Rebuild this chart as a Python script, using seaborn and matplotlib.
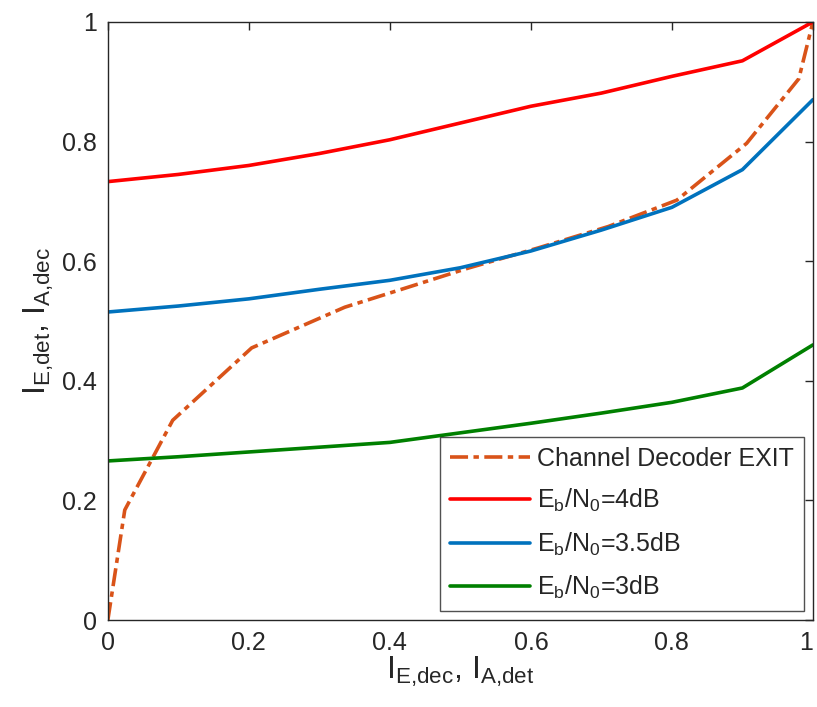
import numpy as np
import pandas as pd
import matplotlib
matplotlib.use("Agg")
import matplotlib.pyplot as plt
import seaborn as sns

sns.set_style("white")
plt.rcParams['font.family'] = ['Liberation Sans', 'DejaVu Sans']
plt.rcParams['mathtext.fontset'] = 'custom'
plt.rcParams['mathtext.rm'] = 'Liberation Sans'
plt.rcParams['mathtext.it'] = 'Liberation Sans'

# Data
x_dec = [0, 0.024, 0.092, 0.204, 0.336, 0.414, 0.51, 0.61, 0.71, 0.807, 0.906, 0.98, 1.0]
y_dec = [0, 0.184, 0.334, 0.455, 0.523, 0.552, 0.588, 0.622, 0.658, 0.702, 0.797, 0.905, 1.0]
x_det = [0, 0.1, 0.2, 0.3, 0.4, 0.5, 0.6, 0.7, 0.8, 0.9, 1.0]
y_4db = [0.733, 0.745, 0.760, 0.780, 0.803, 0.831, 0.859, 0.881, 0.909, 0.935, 1.0]
y_35db = [0.515, 0.525, 0.537, 0.553, 0.568, 0.589, 0.617, 0.652, 0.690, 0.753, 0.870]
y_3db = [0.266, 0.273, 0.281, 0.289, 0.297, 0.313, 0.329, 0.346, 0.364, 0.388, 0.460]
tick_vals = [0, 0.2, 0.4, 0.6, 0.8, 1]
tick_labels = ["0", "0.2", "0.4", "0.6", "0.8", "1"]
labels = ["Channel Decoder EXIT", r"E$_\mathregular{b}$/N$_\mathregular{0}$=4dB",
          r"E$_\mathregular{b}$/N$_\mathregular{0}$=3.5dB", r"E$_\mathregular{b}$/N$_\mathregular{0}$=3dB"]
colors = ["#D95319", "#FF0000", "#0072BD", "#008000"]

fig = plt.figure(figsize=(8.17, 7.07), dpi=100)
ax = fig.add_axes([0.132, 0.123, 0.863, 0.846])

sns.lineplot(x=x_dec, y=y_dec, ax=ax, color=colors[0], lw=2.6, linestyle=(0, (5, 1.5, 1.5, 1.5)),
             label=labels[0], sort=False)
for yy, lab, c in zip([y_4db, y_35db, y_3db], labels[1:], colors[1:]):
    sns.lineplot(x=x_det, y=yy, ax=ax, color=c, lw=2.6, label=lab, sort=False)

ax.set_xlim(0, 1)
ax.set_ylim(0, 1)
ax.set_xticks(tick_vals)
ax.set_xticklabels(tick_labels)
ax.set_yticks(tick_vals)
ax.set_yticklabels(tick_labels)
ax.tick_params(direction='in', length=6, width=1, labelsize=18, top=True, right=True,
               colors='#262626', labelcolor='#262626', pad=8)
ax.get_xticklabels()[-1].set_horizontalalignment('right')
for s in ax.spines.values():
    s.set_color('#262626')
    s.set_linewidth(1)
ax.set_xlabel(r"I$_\mathregular{E{,}dec}$, I$_\mathregular{A{,}det}$", fontsize=23, color='#262626', labelpad=0)
ax.set_ylabel(r"I$_\mathregular{E{,}det}$, I$_\mathregular{A{,}dec}$", fontsize=23, color='#262626', labelpad=4)

leg = ax.legend(loc='lower right', fontsize=18, frameon=True, fancybox=False, edgecolor='#262626',
                handlelength=3.2, borderaxespad=0.35, labelspacing=0.65, handletextpad=0.3,
                borderpad=0.4)
leg.get_frame().set_linewidth(1)

fig.savefig("out.png", dpi=100)
